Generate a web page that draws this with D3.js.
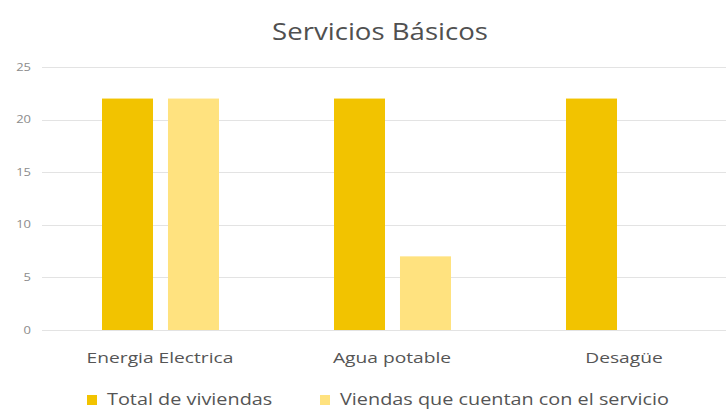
<!DOCTYPE html>
<html>
<head>
<meta charset="utf-8">
<script src="https://cdn.jsdelivr.net/npm/d3@7"></script>
<style>
  body { margin: 0; background: #fff; }
  svg { font-family: "Open Sans", "Noto Sans", sans-serif; }
</style>
</head>
<body>
<svg id="chart" width="726" height="410"></svg>
<script>
// dati
const categorie = ["Energia Electrica", "Agua potable", "Desagüe"];
const serie = ["Total de viviendas", "Viendas que cuentan con el servicio"];
const totaleViviende = [22, 22, 22];
const conServizio = [22, 7, null];
const tickY = [0, 5, 10, 15, 20, 25];
const colori = ["#F2C300", "#FFE27F"];

const svg = d3.select("#chart");
const W = 726;
const yTop = 67, yBottom = 330;
const stretch = 1.28; // il testo dell'originale e' allargato in orizzontale

const x = d3.scaleBand().domain(categorie).range([44, 740]);
const xSerie = d3.scaleBand().domain(serie).range([58, 175]).paddingInner(0.227);
const y = d3.scaleLinear().domain([0, 25]).range([yBottom, yTop]);

// griglia
svg.append("g")
  .selectAll("line")
  .data(tickY)
  .enter()
  .append("line")
  .attr("x1", 42)
  .attr("x2", W)
  .attr("y1", d => Math.round(y(d)) + 0.5)
  .attr("y2", d => Math.round(y(d)) + 0.5)
  .style("stroke", "#e3e3e3")
  .style("stroke-width", 1);

// etichette asse y
svg.append("g")
  .selectAll("text")
  .data(tickY)
  .enter()
  .append("text")
  .attr("transform", d => `translate(31, ${y(d) + 3.5}) scale(1.3, 1)`)
  .attr("text-anchor", "end")
  .style("font-size", "10px")
  .style("fill", "#8c8c8c")
  .text(d => d);

// barre
const righe = categorie.map((c, i) => ({ cat: c, valori: [totaleViviende[i], conServizio[i]] }));
const gruppi = svg.append("g")
  .selectAll("g")
  .data(righe)
  .enter()
  .append("g")
  .attr("transform", d => `translate(${x(d.cat)}, 0)`);

gruppi.selectAll("rect")
  .data(d => d.valori.map((v, j) => ({ s: serie[j], v: v, j: j })).filter(e => e.v != null))
  .enter()
  .append("rect")
  .attr("x", d => xSerie(d.s))
  .attr("width", xSerie.bandwidth())
  .attr("y", d => y(d.v))
  .attr("height", d => y(0) - y(d.v))
  .style("fill", d => colori[d.j]);

// etichette categorie
svg.append("g")
  .selectAll("text")
  .data(categorie)
  .enter()
  .append("text")
  .attr("transform", d => `translate(${x(d) + 116}, 363) scale(${stretch}, 1)`)
  .attr("text-anchor", "middle")
  .style("font-size", "15px")
  .style("fill", "#555")
  .text(d => d);

// titolo
svg.append("text")
  .attr("transform", "translate(380, 40) scale(1.2, 1)")
  .attr("text-anchor", "middle")
  .style("font-size", "23px")
  .style("fill", "#505050")
  .text("Servicios Básicos");

// legenda
const legX = [87, 320];
const leg = svg.append("g")
  .selectAll("g")
  .data(serie)
  .enter()
  .append("g")
  .attr("transform", (d, i) => `translate(${legX[i]}, 0)`);

leg.append("rect")
  .attr("x", 0)
  .attr("y", 395)
  .attr("width", 10)
  .attr("height", 10)
  .style("fill", (d, i) => colori[i]);

leg.append("text")
  .attr("transform", `translate(20, 405) scale(${stretch}, 1)`)
  .style("font-size", "15.5px")
  .style("fill", "#555")
  .text(d => d);
</script>
</body>
</html>
